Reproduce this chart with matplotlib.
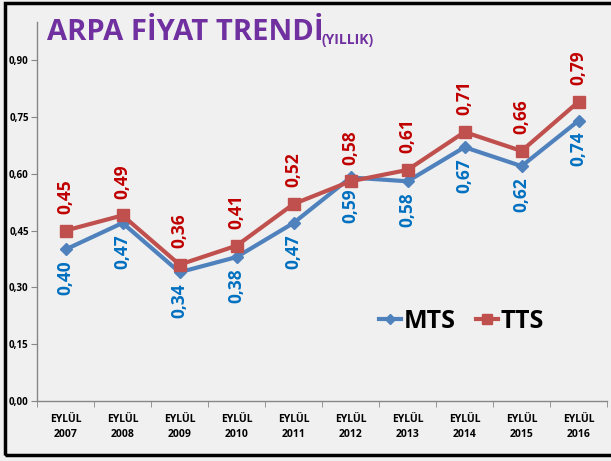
import matplotlib.pyplot as plt
import numpy as np
from matplotlib.patches import Rectangle

# Veriler
years = ['2007', '2008', '2009', '2010', '2011', '2012', '2013', '2014', '2015', '2016']
mts = [0.40, 0.47, 0.34, 0.38, 0.47, 0.59, 0.58, 0.67, 0.62, 0.74]
tts = [0.45, 0.49, 0.36, 0.41, 0.52, 0.58, 0.61, 0.71, 0.66, 0.79]
yticks = [0.00, 0.15, 0.30, 0.45, 0.60, 0.75, 0.90]

plt.rcParams['font.family'] = ['Open Sans', 'DejaVu Sans']

fig = plt.figure(figsize=(6.11, 4.61), dpi=100)
fig.patch.set_facecolor('#F0F0F0')
ax = fig.add_axes([0.0606, 0.130, 0.933, 0.822])
ax.set_facecolor('none')

x = np.arange(len(years))
ax.plot(x, mts, color='#4F81BD', marker='D', markersize=6, linewidth=3, label='MTS', zorder=3)
ax.plot(x, tts, color='#C0504D', marker='s', markersize=8, linewidth=3, label='TTS', zorder=3)

def fmt(v):
    return f'{v:.2f}'.replace('.', ',')

for xi, v in zip(x, mts):
    ax.annotate(fmt(v), (xi, v), xytext=(0, -8), textcoords='offset points',
                rotation=90, ha='center', va='top', color='#0070C0',
                fontsize=12.5, fontweight='bold')
for xi, v in zip(x, tts):
    ax.annotate(fmt(v), (xi, v), xytext=(0, 12), textcoords='offset points',
                rotation=90, ha='center', va='bottom', color='#C00000',
                fontsize=12.5, fontweight='bold')

ax.set_xlim(-0.5, len(years) - 0.5)
ax.set_ylim(0, 1.0)
ax.set_yticks(yticks)
ax.set_yticklabels([fmt(v) for v in yticks], fontsize=7, fontweight='bold')
ax.set_xticks(x)
ax.set_xticklabels(['EYLÜL\n' + y for y in years], fontsize=7.5, fontweight='bold', linespacing=1.6)
ax.set_xticks(np.arange(-0.5, len(years)), minor=True)
ax.tick_params(axis='x', which='major', length=0, pad=9)
ax.tick_params(axis='x', which='minor', length=4, color='#868686')
ax.tick_params(axis='y', length=4, color='#868686', pad=2)

for s in ['top', 'right']:
    ax.spines[s].set_visible(False)
for s in ['left', 'bottom']:
    ax.spines[s].set_color('#868686')
    ax.spines[s].set_linewidth(1)

leg = ax.legend(loc='center left', bbox_to_anchor=(0.56, 0.21), ncol=2, frameon=False,
                prop={'size': 18, 'weight': 'bold'}, handlelength=0.9, handletextpad=0.1,
                columnspacing=0.8, markerscale=0.9)

# Başlık
fig.text(0.077, 0.93, 'ARPA FİYAT TRENDİ', color='#7030A0', fontsize=21,
         fontweight='bold', va='center', ha='left')
fig.text(0.527, 0.913, '(YILLIK)', color='#7030A0', fontsize=10,
         fontweight='bold', va='center', ha='left')

# Çerçeve
fig.patches.append(Rectangle((0.009, 0.013), 1.1, 0.98, transform=fig.transFigure,
                             fill=False, edgecolor='black', linewidth=2.5))

fig.savefig('out.png', dpi=100, facecolor=fig.get_facecolor())
